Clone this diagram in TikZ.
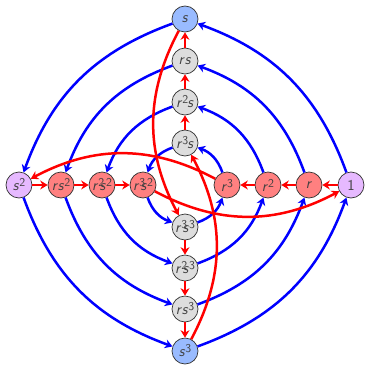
\documentclass[tikz,border=0pt]{standalone}
\usetikzlibrary{arrows.meta}
\definecolor{nblue}{RGB}{153,187,255}
\definecolor{ngray}{RGB}{221,221,221}
\definecolor{nred}{RGB}{255,128,128}
\definecolor{nviolet}{RGB}{230,185,255}
\newcommand\myr{\textsl{r}}
\newcommand\mys{\textsl{s}}
\newcommand\myp[1]{\raisebox{4pt}{\fontsize{12}{12}\selectfont #1}}
\newcommand\myk{\kern-0.3em}
\begin{document}
\begin{tikzpicture}[x=1pt,y=-1pt,
  elem/.style={circle,draw=black!80,line width=0.7pt,minimum size=26pt,inner sep=0pt,
    text=black!75,font=\fontsize{15}{17}\selectfont\sffamily},
  eb/.style={elem,fill=nblue},
  eg/.style={elem,fill=ngray},
  er/.style={elem,fill=nred},
  ev/.style={elem,fill=nviolet},
  tip/.style={-{Stealth[length=7.5pt,width=9pt,inset=2.5pt]}},
  redge/.style={tip,red,line width=2.5pt},
  bedge/.style={tip,blue,line width=2.5pt,bend right=25},
  ledge/.style={redge,bend right=28}]
\useasboundingbox (0,0) rectangle (366,364);
% right row
\node[ev] (e)   at (351,185) {1};
\node[er] (r1)  at (309,185) {\myr};
\node[er] (r2)  at (268,185) {\myr\myp{2}};
\node[er] (r3)  at (227,185) {\myr\myp{3}};
% left row
\node[ev] (s2)   at (19,185)  {\mys\myp{2}};
\node[er] (rs2)  at (61,185)  {\myr\mys\myp{2}};
\node[er] (r2s2) at (102,185) {\myr\myp{2}\myk\mys\myp{2}};
\node[er] (r3s2) at (143,185) {\myr\myp{3}\myk\mys\myp{2}};
% top column
\node[eb] (s1)   at (185,19)  {\mys};
\node[eg] (rs1)  at (185,61)  {\myr\mys};
\node[eg] (r2s1) at (185,102) {\myr\myp{2}\kern-0.05em\mys};
\node[eg] (r3s1) at (185,143) {\myr\myp{3}\kern-0.05em\mys};
% bottom column
\node[eg] (r3s3) at (185,227) {\myr\myp{3}\myk\mys\myp{3}};
\node[eg] (r2s3) at (185,268) {\myr\myp{2}\myk\mys\myp{3}};
\node[eg] (rs3)  at (185,309) {\myr\mys\myp{3}};
\node[eb] (s3)   at (185,351) {\mys\myp{3}};
% blue rings
\draw[bedge] (e) to (s1);
\draw[bedge] (s1) to (s2);
\draw[bedge] (s2) to (s3);
\draw[bedge] (s3) to (e);
\draw[bedge] (r1) to (rs1);
\draw[bedge] (rs1) to (rs2);
\draw[bedge] (rs2) to (rs3);
\draw[bedge] (rs3) to (r1);
\draw[bedge] (r2) to (r2s1);
\draw[bedge] (r2s1) to (r2s2);
\draw[bedge] (r2s2) to (r2s3);
\draw[bedge] (r2s3) to (r2);
\draw[bedge] (r3) to (r3s1);
\draw[bedge] (r3s1) to (r3s2);
\draw[bedge] (r3s2) to (r3s3);
\draw[bedge] (r3s3) to (r3);
% red straight
\draw[redge] (e) -- (r1);
\draw[redge] (r1) -- (r2);
\draw[redge] (r2) -- (r3);
\draw[redge] (s2) -- (rs2);
\draw[redge] (rs2) -- (r2s2);
\draw[redge] (r2s2) -- (r3s2);
\draw[redge] (r3s1) -- (r2s1);
\draw[redge] (r2s1) -- (rs1);
\draw[redge] (rs1) -- (s1);
\draw[redge] (r3s3) -- (r2s3);
\draw[redge] (r2s3) -- (rs3);
\draw[redge] (rs3) -- (s3);
% red long
\draw[ledge] (r3) to (s2);
\draw[ledge] (r3s2) to (e);
\draw[ledge] (s1) to (r3s3);
\draw[ledge] (s3) to (r3s1);
\end{tikzpicture}
\end{document}
